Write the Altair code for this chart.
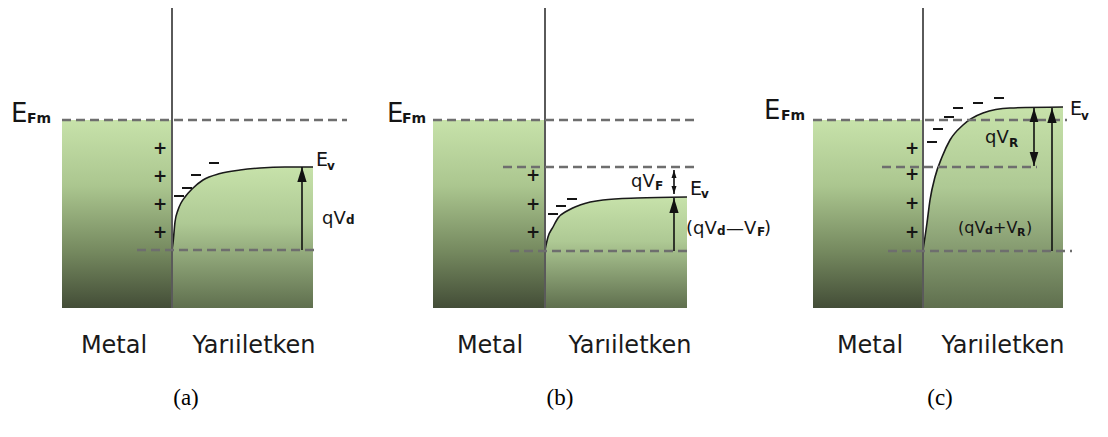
import altair as alt
import pandas as pd

# ---------------- data (diagram coordinates, y grows downward) ----------------
panel_ids = ["a", "b", "c"]
efm_level = [120, 120, 120]
metal_left = [62, 433, 813]
interface_x = [172, 545, 923]
band_bottom = [308, 308, 308]
iface_top = [4, 4, 4]

curve_a_x = [172, 173, 175, 178, 181, 185, 192, 203, 220, 240, 260, 285, 313]
curve_a_y = [250, 243, 222, 210, 203, 197, 189, 180, 173.5, 170, 168, 167, 167]
curve_b_x = [545, 548, 553, 558, 567, 580, 603, 637, 687]
curve_b_y = [250, 237, 227, 218, 211, 205, 200, 198, 197]
curve_c_x = [923, 925, 927, 930, 935, 942, 950, 963, 983, 1010, 1063]
curve_c_y = [250, 237, 223, 200, 177, 157, 140, 125, 113, 108, 107]

dash_x0 = [62, 137, 433, 503, 510, 813, 882, 888]
dash_x1 = [347, 317, 695, 697, 692, 1067, 1037, 1072]
dash_y = [120, 250, 120, 167, 251, 120, 167, 251]

arrow_x = [302, 674, 674, 1034, 1052]
arrow_top = [167, 170, 198, 108, 108]
arrow_bot = [250, 194, 251, 166, 251]
arrow_head_top = [True, True, True, True, True]
arrow_head_bot = [False, True, False, True, False]
arrow_head_len = [15, 8, 15, 14, 15]

plus_x = [160, 160, 160, 160, 533, 533, 533, 912, 912, 912, 912]
plus_y = [149, 177, 205, 233, 176, 205, 233, 149, 175, 204, 233]

minus_x = [214, 196, 187, 179, 572, 561, 553, 999, 978, 958, 949, 938, 932]
minus_y = [163, 175, 188, 196, 199, 206, 214, 98, 103, 108, 117, 129, 142]

label_text = ["E", "E", "qV", "E", "qV", "E", "(qV", "—V", ")", "E", "E", "qV", "(qV", "+V", ")"]
label_x = [11, 316, 322, 387, 631, 690, 686, 726, 764, 764, 1070, 985, 958, 993, 1026]
label_y = [122, 166, 224, 122, 187, 195, 234, 234, 234, 119, 115, 143, 233, 233, 233]
label_size = [26, 19, 18, 26, 18, 19, 18, 18, 18, 26, 19, 18, 16, 16, 16]

sub_text = ["Fm", "v", "d", "Fm", "F", "v", "d", "F", "Fm", "v", "R", "d", "R"]
sub_x = [27, 327, 346, 402, 655, 701, 717, 757, 781, 1081, 1009, 985, 1017]
sub_y = [123, 170, 224, 123, 190, 198, 235, 236, 120, 120, 147, 234, 236]
sub_size = [14, 12, 12, 14, 12, 12, 12, 12, 14, 12, 12, 11, 11]

bottom_text = ["Metal", "Yarıiletken", "Metal", "Yarıiletken", "Metal", "Yarıiletken"]
bottom_x = [114, 254, 490, 630, 870, 1003]
bottom_y = [353, 353, 353, 353, 353, 353]

caption_text = ["(a)", "(b)", "(c)"]
caption_x = [186, 560, 940]
caption_y = [405, 405, 405]

# ---------------- tables ----------------
metal_df = pd.DataFrame({"x0": metal_left, "x1": interface_x, "y0": efm_level, "y1": band_bottom})
curve_df = pd.concat([
    pd.DataFrame({"panel": "a", "x": curve_a_x, "y": curve_a_y}),
    pd.DataFrame({"panel": "b", "x": curve_b_x, "y": curve_b_y}),
    pd.DataFrame({"panel": "c", "x": curve_c_x, "y": curve_c_y}),
], ignore_index=True)
curve_df["bot"] = 308
vline_df = pd.DataFrame({"x": interface_x, "y0": iface_top, "y1": band_bottom})
dash_df = pd.DataFrame({"x0": dash_x0, "x1": dash_x1, "y": dash_y})
arrow_df = pd.DataFrame({"x": arrow_x, "top": arrow_top, "bot": arrow_bot,
                         "ht": arrow_head_top, "hb": arrow_head_bot, "L": arrow_head_len})
up_df = arrow_df[arrow_df["ht"]].copy()
up_df["cy"] = up_df["top"] + up_df["L"] / 2
up_df["s"] = up_df["L"] ** 2
down_df = arrow_df[arrow_df["hb"]].copy()
down_df["cy"] = down_df["bot"] - down_df["L"] / 2
down_df["s"] = down_df["L"] ** 2
plus_df = pd.DataFrame({"x": plus_x, "y": plus_y, "t": "+"})
minus_df = pd.DataFrame({"x": minus_x, "y": minus_y})
minus_df["x0"] = minus_df["x"] - 5
minus_df["x1"] = minus_df["x"] + 5
label_df = pd.DataFrame({"t": label_text, "x": label_x, "y": label_y, "s": label_size})
sub_df = pd.DataFrame({"t": sub_text, "x": sub_x, "y": sub_y, "s": sub_size})
bottom_df = pd.DataFrame({"t": bottom_text, "x": bottom_x, "y": bottom_y})
caption_df = pd.DataFrame({"t": caption_text, "x": caption_x, "y": caption_y})

# ---------------- scales ----------------
XS = alt.Scale(domain=[8, 1100], nice=False, zero=False)
YS = alt.Scale(domain=[8, 429], nice=False, zero=False, reverse=True)


def X(f):
    return alt.X(f, type="quantitative", scale=XS, axis=None)


def Y(f):
    return alt.Y(f, type="quantitative", scale=YS, axis=None)


def grad(stops):
    return alt.Gradient(gradient="linear", x1=0, x2=0, y1=0, y2=1,
                        stops=[alt.GradientStop(color=c, offset=o) for o, c in stops])


metal_grad = grad([(0, "#c7e2aa"), (0.35, "#abc68f"), (0.7, "#75895f"), (1, "#434d37")])
semi_grad = grad([(0, "#c7e2aa"), (0.4, "#aec994"), (1, "#5f6f4e")])

SANS = "DejaVu Sans"
TXT = "#151515"

metal = alt.Chart(metal_df).mark_rect(color=metal_grad).encode(
    x=X("x0"), x2=alt.X2("x1"), y=Y("y0"), y2=alt.Y2("y1"))
semi = alt.Chart(curve_df).mark_area(color=semi_grad, interpolate="monotone").encode(
    x=X("x"), y=Y("y"), y2=alt.Y2("bot"), detail="panel:N")
curve = alt.Chart(curve_df).mark_line(color="#1a1a1a", strokeWidth=1.6, interpolate="monotone").encode(
    x=X("x"), y=Y("y"), detail="panel:N")
vline = alt.Chart(vline_df).mark_rule(color="#5a5a5a", strokeWidth=2).encode(
    x=X("x"), y=Y("y0"), y2=alt.Y2("y1"))
dashed = alt.Chart(dash_df).mark_rule(color="#6e6e6e", strokeWidth=2.4, strokeDash=[9, 5]).encode(
    x=X("x0"), x2=alt.X2("x1"), y=Y("y"))
shafts = alt.Chart(arrow_df).mark_rule(color="#111111", strokeWidth=1.6).encode(
    x=X("x"), y=Y("top"), y2=alt.Y2("bot"))
heads_up = alt.Chart(up_df).mark_point(shape="M0,-1L0.62,1L-0.62,1Z", filled=True, color="#111111",
                                       opacity=1, strokeWidth=0).encode(
    x=X("x"), y=Y("cy"), size=alt.Size("s:Q", scale=None, legend=None))
heads_down = alt.Chart(down_df).mark_point(shape="M0,1L0.62,-1L-0.62,-1Z", filled=True, color="#111111",
                                           opacity=1, strokeWidth=0).encode(
    x=X("x"), y=Y("cy"), size=alt.Size("s:Q", scale=None, legend=None))
plus = alt.Chart(plus_df).mark_text(font="DejaVu Sans", fontSize=17, fontWeight="bold", color=TXT,
                                    align="center", baseline="middle").encode(
    x=X("x"), y=Y("y"), text="t:N")
minus = alt.Chart(minus_df).mark_rule(color=TXT, strokeWidth=2).encode(
    x=X("x0"), x2=alt.X2("x1"), y=Y("y"))
labels = alt.Chart(label_df).mark_text(font=SANS, color=TXT, align="left", baseline="alphabetic").encode(
    x=X("x"), y=Y("y"), text="t:N", size=alt.Size("s:Q", scale=None, legend=None))
subs = alt.Chart(sub_df).mark_text(font=SANS, fontWeight="bold", color=TXT, align="left",
                                   baseline="alphabetic").encode(
    x=X("x"), y=Y("y"), text="t:N", size=alt.Size("s:Q", scale=None, legend=None))
bottom = alt.Chart(bottom_df).mark_text(font="DejaVu Sans", fontSize=24, color="#1a1a1a", align="center",
                                        baseline="alphabetic").encode(
    x=X("x"), y=Y("y"), text="t:N")
captions = alt.Chart(caption_df).mark_text(font="Liberation Serif", fontSize=23, color="#000000",
                                           align="center", baseline="alphabetic").encode(
    x=X("x"), y=Y("y"), text="t:N")

chart = alt.layer(
    metal, semi, curve, vline, dashed, shafts, heads_up, heads_down, plus, minus, labels, subs, bottom, captions
).properties(
    width=1092, height=421, padding=0, autosize=alt.AutoSizeParams(type="none")
).configure_view(stroke=None)

chart.save("out.html", embed_options={"renderer": "svg", "actions": False})
